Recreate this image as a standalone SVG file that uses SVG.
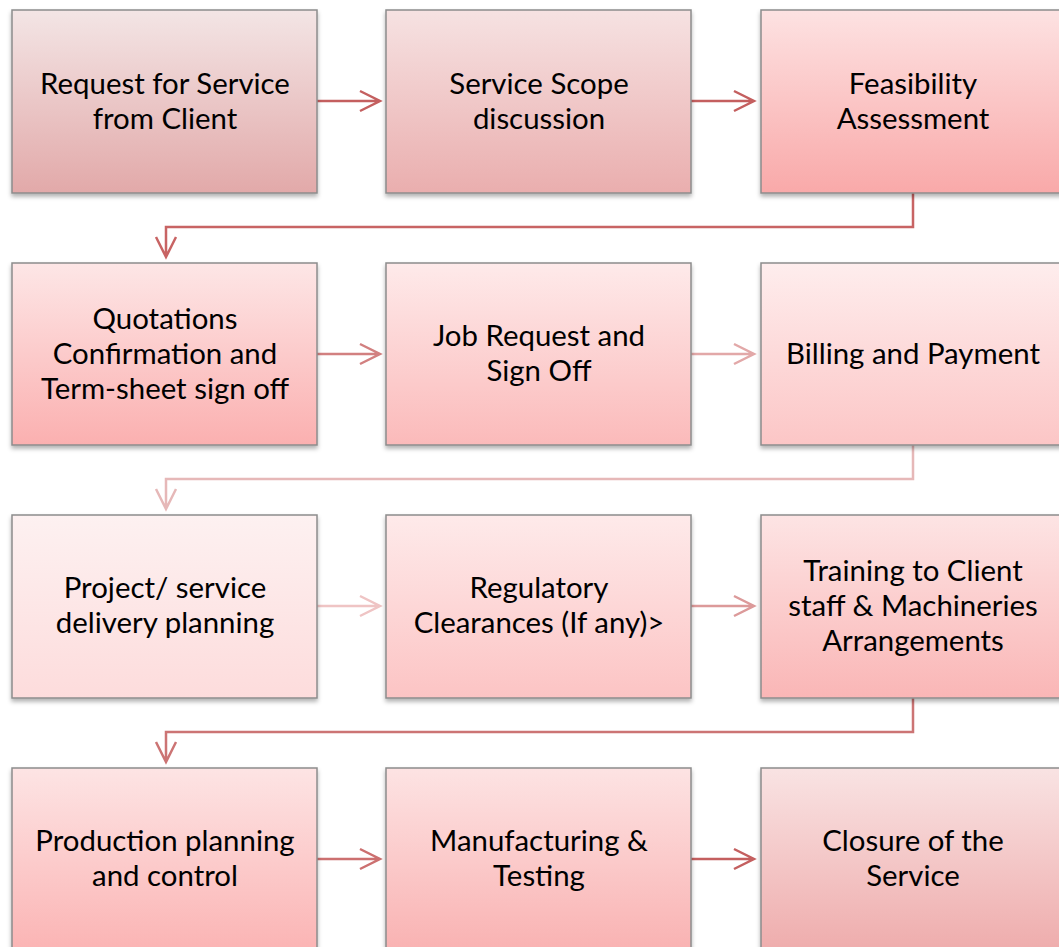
<svg xmlns="http://www.w3.org/2000/svg" width="1059" height="947" viewBox="0 0 1059 947">
<style>
.box{stroke:#8c8c8c;stroke-width:1.5;filter:url(#sh)}
.t{font-family:"Lato","Liberation Sans",sans-serif;font-size:29.4px;fill:#000;text-anchor:middle}
.c{fill:none;stroke-width:2.5}
</style>
<defs>
<filter id="sh" x="-5%" y="-5%" width="110%" height="115%"><feDropShadow dx="0" dy="3" stdDeviation="2" flood-color="#000" flood-opacity="0.3"/></filter>
<linearGradient id="g1" x1="0" y1="0" x2="0" y2="1"><stop offset="0" stop-color="#f3e5e5"/><stop offset="1" stop-color="#e2a9a9"/></linearGradient>
<linearGradient id="g2" x1="0" y1="0" x2="0" y2="1"><stop offset="0" stop-color="#f6e2e2"/><stop offset="1" stop-color="#eaaeae"/></linearGradient>
<linearGradient id="g3" x1="0" y1="0" x2="0" y2="1"><stop offset="0" stop-color="#fde2e2"/><stop offset="1" stop-color="#f9a9a9"/></linearGradient>
<linearGradient id="g4" x1="0" y1="0" x2="0" y2="1"><stop offset="0" stop-color="#fde6e6"/><stop offset="1" stop-color="#fbb0b0"/></linearGradient>
<linearGradient id="g5" x1="0" y1="0" x2="0" y2="1"><stop offset="0" stop-color="#feeaea"/><stop offset="1" stop-color="#fbbaba"/></linearGradient>
<linearGradient id="g6" x1="0" y1="0" x2="0" y2="1"><stop offset="0" stop-color="#feeded"/><stop offset="1" stop-color="#fcc6c6"/></linearGradient>
<linearGradient id="g7" x1="0" y1="0" x2="0" y2="1"><stop offset="0" stop-color="#fdf1f1"/><stop offset="1" stop-color="#fddcdc"/></linearGradient>
<linearGradient id="g8" x1="0" y1="0" x2="0" y2="1"><stop offset="0" stop-color="#feeaea"/><stop offset="1" stop-color="#fcc4c4"/></linearGradient>
<linearGradient id="g9" x1="0" y1="0" x2="0" y2="1"><stop offset="0" stop-color="#fde4e4"/><stop offset="1" stop-color="#fab6b6"/></linearGradient>
<linearGradient id="g10" x1="0" y1="0" x2="0" y2="1"><stop offset="0" stop-color="#fde4e4"/><stop offset="1" stop-color="#fbb2b2"/></linearGradient>
<linearGradient id="g11" x1="0" y1="0" x2="0" y2="1"><stop offset="0" stop-color="#fde3e3"/><stop offset="1" stop-color="#f9b0b0"/></linearGradient>
<linearGradient id="g12" x1="0" y1="0" x2="0" y2="1"><stop offset="0" stop-color="#f9e3e3"/><stop offset="1" stop-color="#eeaaaa"/></linearGradient>
</defs>
<rect width="1059" height="947" fill="#fff"/>
<g id="connectors">
<path class="c" stroke="#c45f5f" d="M317 101H379M360 91L380 101L360 111"/>
<path class="c" stroke="#c45f5f" d="M691 101H753M734 91L754 101L734 111"/>
<path class="c" stroke="#c86464" d="M913 193V227H166V256M156 237L166 257L176 237"/>
<path class="c" stroke="#d28080" d="M317 354H379M360 344L380 354L360 364"/>
<path class="c" stroke="#e2a8a8" d="M691 354H753M734 344L754 354L734 364"/>
<path class="c" stroke="#e6b8b8" d="M913 445V479H166V508M156 489L166 509L176 489"/>
<path class="c" stroke="#efc4c4" d="M317 606H379M360 596L380 606L360 616"/>
<path class="c" stroke="#dc9a9a" d="M691 606H753M734 596L754 606L734 616"/>
<path class="c" stroke="#cc7474" d="M913 698V732H166V761M156 742L166 762L176 742"/>
<path class="c" stroke="#cc7070" d="M317 859H379M360 849L380 859L360 869"/>
<path class="c" stroke="#c45f5f" d="M691 859H753M734 849L754 859L734 869"/>
</g>
<g id="n1"><rect class="box" x="12" y="10" width="305" height="183" fill="url(#g1)"/><text class="t" x="165" y="94">Request for Service</text><text class="t" x="165" y="129">from Client</text></g>
<g id="n2"><rect class="box" x="386" y="10" width="305" height="183" fill="url(#g2)"/><text class="t" x="539" y="94">Service Scope</text><text class="t" x="539" y="129">discussion</text></g>
<g id="n3"><rect class="box" x="761" y="10" width="310" height="183" fill="url(#g3)"/><text class="t" x="913" y="94">Feasibility</text><text class="t" x="913" y="129">Assessment</text></g>
<g id="n4"><rect class="box" x="12" y="263" width="305" height="182" fill="url(#g4)"/><text class="t" x="165" y="329">Quotations</text><text class="t" x="165" y="364">Confirmation and</text><text class="t" x="165" y="399">Term-sheet sign off</text></g>
<g id="n5"><rect class="box" x="386" y="263" width="305" height="182" fill="url(#g5)"/><text class="t" x="539" y="346">Job Request and</text><text class="t" x="539" y="381">Sign Off</text></g>
<g id="n6"><rect class="box" x="761" y="263" width="310" height="182" fill="url(#g6)"/><text class="t" x="913" y="364">Billing and Payment</text></g>
<g id="n7"><rect class="box" x="12" y="515" width="305" height="183" fill="url(#g7)"/><text class="t" x="165" y="598">Project/ service</text><text class="t" x="165" y="633">delivery planning</text></g>
<g id="n8"><rect class="box" x="386" y="515" width="305" height="183" fill="url(#g8)"/><text class="t" x="539" y="598">Regulatory</text><text class="t" x="539" y="633">Clearances (If any)&gt;</text></g>
<g id="n9"><rect class="box" x="761" y="515" width="310" height="183" fill="url(#g9)"/><text class="t" x="913" y="581">Training to Client</text><text class="t" x="913" y="616">staff &amp; Machineries</text><text class="t" x="913" y="651">Arrangements</text></g>
<g id="n10"><rect class="box" x="12" y="768" width="305" height="190" fill="url(#g10)"/><text class="t" x="165" y="851">Production planning</text><text class="t" x="165" y="886">and control</text></g>
<g id="n11"><rect class="box" x="386" y="768" width="305" height="190" fill="url(#g11)"/><text class="t" x="539" y="851">Manufacturing &amp;</text><text class="t" x="539" y="886">Testing</text></g>
<g id="n12"><rect class="box" x="761" y="768" width="310" height="190" fill="url(#g12)"/><text class="t" x="913" y="851">Closure of the</text><text class="t" x="913" y="886">Service</text></g>
</svg>
